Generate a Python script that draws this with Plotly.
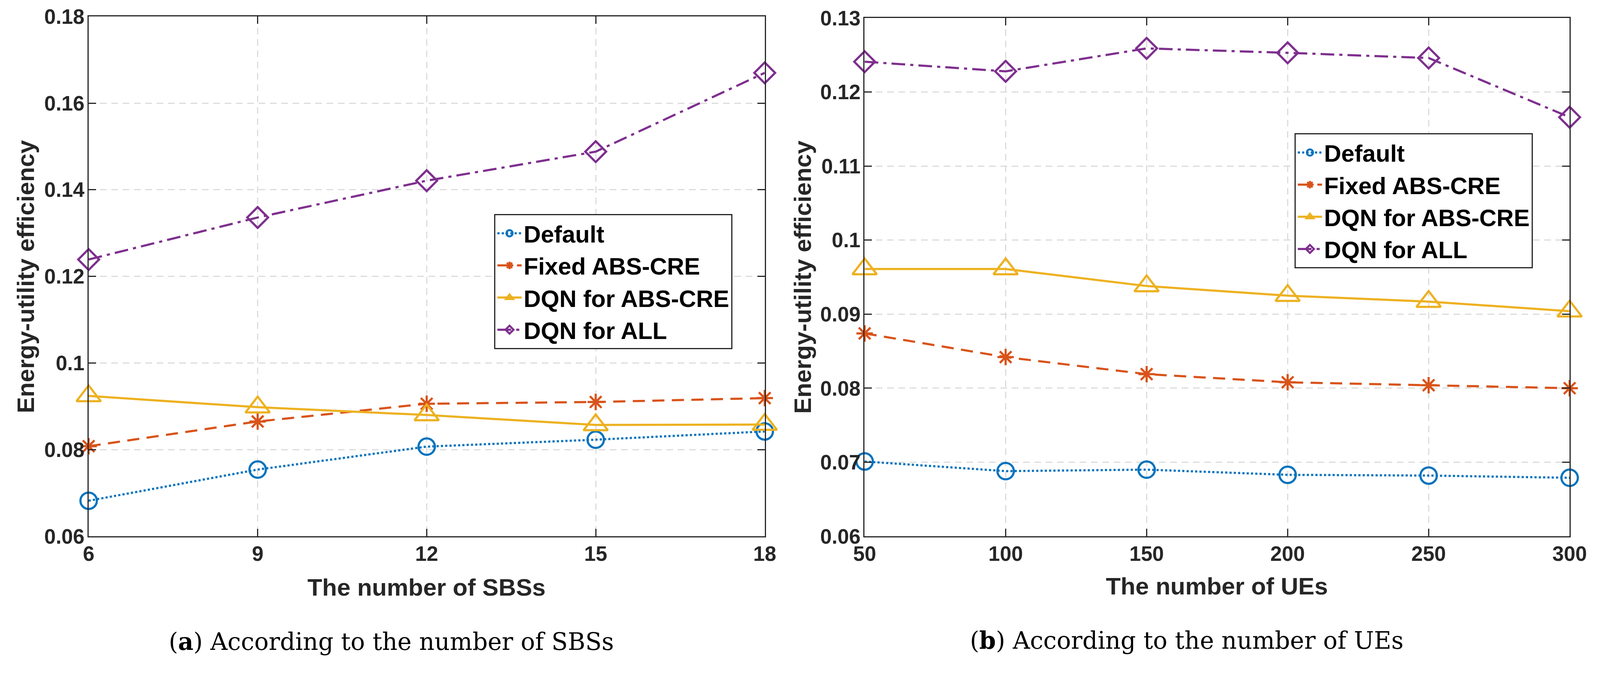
import plotly.graph_objects as go

#### Data ####
sbs = [6, 9, 12, 15, 18]
ues = [50, 100, 150, 200, 250, 300]

default_sbs = [0.0682, 0.0754, 0.0807, 0.0823, 0.0842]
fixed_sbs = [0.0808, 0.0865, 0.0906, 0.0910, 0.0919]
dqn_abs_sbs = [0.0924, 0.0898, 0.0880, 0.0857, 0.0858]
dqn_all_sbs = [0.1239, 0.1336, 0.1421, 0.1488, 0.1670]

default_ue = [0.0701, 0.0688, 0.0690, 0.0683, 0.0682, 0.0679]
fixed_ue = [0.0874, 0.0842, 0.0819, 0.0808, 0.0804, 0.0800]
dqn_abs_ue = [0.0961, 0.0961, 0.0938, 0.0925, 0.0917, 0.0904]
dqn_all_ue = [0.1241, 0.1228, 0.1259, 0.1253, 0.1246, 0.1166]

names = ['Default', 'Fixed ABS-CRE', 'DQN for ABS-CRE', 'DQN for ALL']

ytick_a = [0.06, 0.08, 0.10, 0.12, 0.14, 0.16, 0.18]
ytext_a = ['0.06', '0.08', '0.1', '0.12', '0.14', '0.16', '0.18']
ytick_b = [0.06, 0.07, 0.08, 0.09, 0.10, 0.11, 0.12, 0.13]
ytext_b = ['0.06', '0.07', '0.08', '0.09', '0.1', '0.11', '0.12', '0.13']

# matlab default colours
colors = ['#0072BD', '#D95319', '#EDB120', '#7E2F8E']
symbols = ['circle-open', 'asterisk-open', 'triangle-up-open', 'diamond-open']
msizes = [42, 35, 54, 41]
dashes = ['dot', '31px,19px', 'solid', '35px,13px,8px,13px']

#### Page geometry ####
# the page shows about 4% less than the screenshot size, body has 8px margin
K = 1.04
OFF = 8
W = round(4255 / K) - 2 * OFF
H = round(1759 / K) - 2 * OFF


def cx(v):
    return (v / K - OFF) / W


def cy(v):
    return 1 - (v / K - OFF) / H


fig = go.Figure()

series_a = [default_sbs, fixed_sbs, dqn_abs_sbs, dqn_all_sbs]
series_b = [default_ue, fixed_ue, dqn_abs_ue, dqn_all_ue]

for i in range(4):
    fig.add_trace(go.Scatter(
        x=sbs, y=series_a[i], name=names[i], mode='lines+markers',
        line=dict(color=colors[i], width=5.5, dash=dashes[i]),
        marker=dict(symbol=symbols[i], size=msizes[i], color=colors[i],
                    line=dict(color=colors[i], width=5.5)),
        cliponaxis=False, xaxis='x', yaxis='y', legend='legend'))

for i in range(4):
    fig.add_trace(go.Scatter(
        x=ues, y=series_b[i], name=names[i], mode='lines+markers',
        line=dict(color=colors[i], width=5.5, dash=dashes[i]),
        marker=dict(symbol=symbols[i], size=msizes[i], color=colors[i],
                    line=dict(color=colors[i], width=5.5)),
        cliponaxis=False, xaxis='x2', yaxis='y2', legend='legend2'))

tickfont = dict(family='Liberation Sans', size=53, color='#262626', weight='bold')
titlefont = dict(family='Liberation Sans', size=62, color='#262626', weight='bold')
capfont = dict(family='DejaVu Serif', size=61, color='black')
legfont = dict(family='Liberation Sans', size=61, color='black', weight='bold')

axis_common = dict(
    showline=True, linecolor='#262626', linewidth=3, mirror='ticks',
    ticks='inside', ticklen=19, tickwidth=3, tickcolor='#262626',
    showgrid=True, gridcolor='#dcdcdc', gridwidth=3, griddash='17px,12px',
    zeroline=False, tickfont=tickfont, automargin=False,
)

legend_common = dict(xanchor='left', yanchor='top', bgcolor='white',
                     bordercolor='#262626', borderwidth=3, font=legfont,
                     itemsizing='trace', itemwidth=62)

fig.update_layout(
    width=W, height=H,
    margin=dict(l=0, r=0, t=0, b=0, autoexpand=False),
    paper_bgcolor='white', plot_bgcolor='white',
    xaxis=dict(domain=[cx(236), cx(2036)], range=[6, 18], tickvals=sbs,
               anchor='y', ticklabelstandoff=-4, **axis_common),
    yaxis=dict(domain=[cy(1428), cy(44)], range=[0.06, 0.18],
               tickvals=ytick_a, ticktext=ytext_a, anchor='x',
               ticklabelstandoff=-3, **axis_common),
    xaxis2=dict(domain=[cx(2302), cx(4179)], range=[50, 300], tickvals=ues,
                anchor='y2', ticklabelstandoff=-4, **axis_common),
    yaxis2=dict(domain=[cy(1428), cy(48)], range=[0.06, 0.13],
                tickvals=ytick_b, ticktext=ytext_b, anchor='x2',
                ticklabelstandoff=-3, **axis_common),
    legend=dict(x=cx(1316), y=cy(570), **legend_common),
    legend2=dict(x=cx(3447), y=cy(355), **legend_common),
    showlegend=True,
)

# axis titles and captions
labels = [
    ('The number of SBSs', 1136, 1564, 0, titlefont),
    ('The number of UEs', 3240, 1560, 0, titlefont),
    ('Energy-utility efficiency', 68, 736, -90, titlefont),
    ('Energy-utility efficiency', 2137, 738, -90, titlefont),
    ('(<b>a</b>) According to the number of SBSs', 1042, 1708, 0, capfont),
    ('(<b>b</b>) According to the number of UEs', 3160, 1705, 0, capfont),
]
for text, px, py, ang, f in labels:
    fig.add_annotation(text=text, x=cx(px), y=cy(py), xref='paper',
                       yref='paper', xanchor='center', yanchor='middle',
                       showarrow=False, textangle=ang, font=f)

fig.write_html("out.html")
